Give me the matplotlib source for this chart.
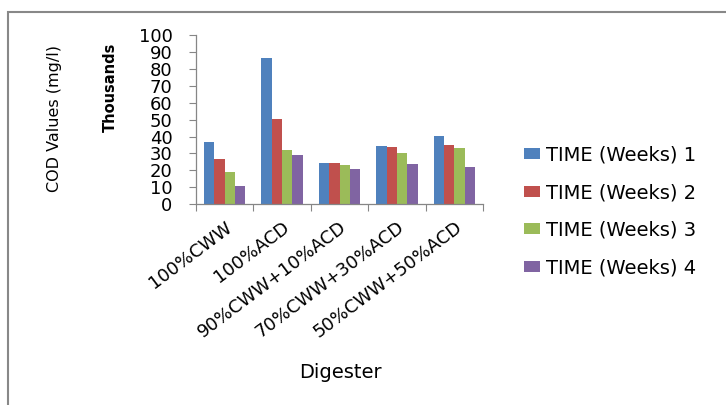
import numpy as np
import matplotlib
matplotlib.use("Agg")
import matplotlib.pyplot as plt
from matplotlib.patches import Rectangle

digesters = ["100%CWW", "100%ACD", "90%CWW+10%ACD", "70%CWW+30%ACD", "50%CWW+50%ACD"]
series_names = ["TIME (Weeks) 1", "TIME (Weeks) 2", "TIME (Weeks) 3", "TIME (Weeks) 4"]
week1 = [36.6, 86.8, 24.1, 34.2, 40.1]
week2 = [26.5, 50.2, 24.1, 33.6, 34.8]
week3 = [18.8, 32.0, 22.9, 30.0, 33.0]
week4 = [10.7, 28.9, 20.6, 23.5, 21.9]
yticks = list(range(0, 101, 10))

colors = ["#4F81BD", "#C0504D", "#9BBB59", "#8064A2"]
grey = "#868686"

fig = plt.figure(figsize=(7.26, 4.05), dpi=100)
ax = fig.add_axes([196 / 726, 1 - 204 / 405, 287 / 726, 168.5 / 405])

x = np.arange(len(digesters))
bw = 0.18
for i, (vals, name) in enumerate(zip([week1, week2, week3, week4], series_names)):
    ax.bar(x + (i - 1.5) * bw, vals, bw, color=colors[i], label=name, zorder=2)

ax.set_xlim(-0.5, len(digesters) - 0.5)
ax.set_ylim(0, 100)
ax.set_yticks(yticks)
ax.set_yticklabels([str(t) for t in yticks], fontsize=13)

ax.set_xticks(x)
ax.set_xticklabels(digesters, rotation=37, ha="right", rotation_mode="anchor", fontsize=13)
ax.set_xticks(np.arange(-0.5, len(digesters)), minor=True)
ax.tick_params(axis="x", which="major", length=0, pad=10)
ax.tick_params(axis="x", which="minor", length=5, color=grey, width=0.8, direction="out")
ax.tick_params(axis="y", length=5, color=grey, width=0.8, direction="out", pad=12)

for s in ["top", "right"]:
    ax.spines[s].set_visible(False)
for s in ["left", "bottom"]:
    ax.spines[s].set_color(grey)
    ax.spines[s].set_linewidth(0.9)

fig.text(55 / 726, 1 - 118 / 405, "COD Values (mg/l)", rotation=90, fontsize=11.5,
         ha="center", va="center")
fig.text(110 / 726, 1 - 87 / 405, "Thousands", rotation=90, fontsize=10.5,
         fontweight="bold", ha="center", va="center")
fig.text(340 / 726, 1 - 373 / 405, "Digester", fontsize=14, ha="center", va="center")

fig.legend(loc="center left", bbox_to_anchor=(524 / 726, 1 - 211.5 / 405),
           frameon=False, fontsize=14, borderpad=0, borderaxespad=0,
           handlelength=0.82, handleheight=0.51, handletextpad=0.31, labelspacing=0.95)

# outer chart frame
fig.patches.append(Rectangle((8 / 726, -0.1), 1.0, 1 - 12 / 405 + 0.1,
                             transform=fig.transFigure, fill=False,
                             edgecolor="#888888", linewidth=1.5))

fig.savefig("out.png", dpi=100)
